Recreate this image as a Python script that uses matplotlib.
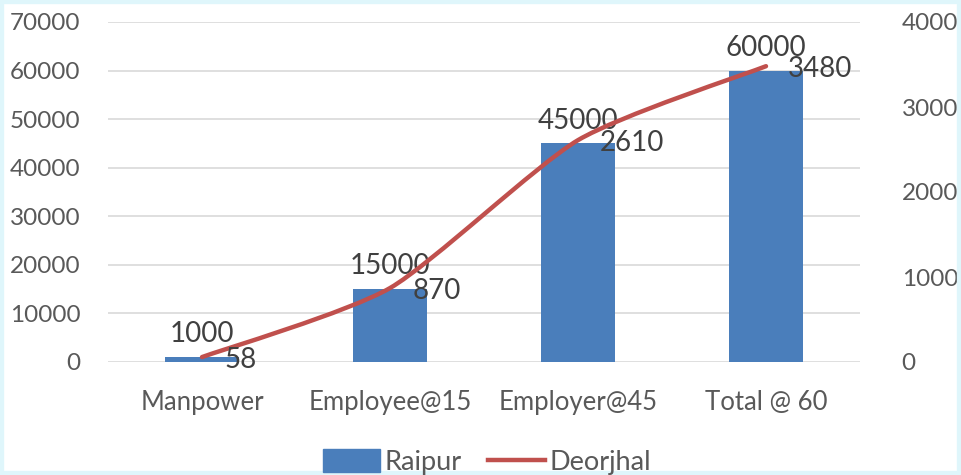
import matplotlib.pyplot as plt
from matplotlib.path import Path
from matplotlib.patches import PathPatch
from matplotlib.lines import Line2D
from matplotlib.patches import Patch

categories = ["Manpower", "Employee@15", "Employer@45", "Total @ 60"]
raipur = [1000, 15000, 45000, 60000]
deorjhal = [58, 870, 2610, 3480]
left_ticks = [0, 10000, 20000, 30000, 40000, 50000, 60000, 70000]
right_ticks = [0, 1000, 2000, 3000, 4000]

BAR = "#4a7ebb"
LINE = "#c0504d"
TXT = "#595959"

plt.rcParams["font.family"] = ["Lato", "DejaVu Sans"]

fig = plt.figure(figsize=(9.61, 4.75), dpi=100)
fig.patch.set_facecolor("white")
ax = fig.add_axes([108 / 961, 1 - 362 / 475, 752 / 961, 340 / 475])
ax2 = ax.twinx()

x = list(range(len(categories)))
ax.bar(x, raipur, width=0.39, color=BAR, zorder=2)
ax.set_xlim(-0.5, 3.5)
ax.set_ylim(0, 70000)
ax.set_yticks(left_ticks)
ax.set_yticklabels([str(v) for v in left_ticks])
ax.grid(axis="y", color="#d9d9d9", linewidth=1.2, zorder=0)
ax.set_axisbelow(True)
ax.set_xticks(x)
ax.set_xticklabels(categories)
ax.tick_params(axis="x", length=0, pad=20, labelsize=18.5, labelcolor=TXT)
ax.tick_params(axis="y", length=0, pad=20, labelsize=17.5, labelcolor=TXT)

for xi, v in zip(x, raipur):
    ax.annotate(str(v), (xi, v), xytext=(0, 7), textcoords="offset points",
                ha="center", va="bottom", fontsize=20, color="#404040")

# smoothed line (Excel-style bezier through the points)
verts = [(x[0], deorjhal[0])]
codes = [Path.MOVETO]
n = len(x)
k = 1 / 9
for i in range(n - 1):
    p0 = (x[max(i - 1, 0)], deorjhal[max(i - 1, 0)])
    p1 = (x[i], deorjhal[i])
    p2 = (x[i + 1], deorjhal[i + 1])
    p3 = (x[min(i + 2, n - 1)], deorjhal[min(i + 2, n - 1)])
    c1 = (p1[0] + (p2[0] - p0[0]) * k, p1[1] + (p2[1] - p0[1]) * k)
    c2 = (p2[0] - (p3[0] - p1[0]) * k, p2[1] - (p3[1] - p1[1]) * k)
    verts += [c1, c2, p2]
    codes += [Path.CURVE4] * 3
ax2.add_patch(PathPatch(Path(verts, codes), facecolor="none", edgecolor=LINE,
                        linewidth=3.2, capstyle="round", zorder=3))
ax2.set_ylim(0, 4000)
ax2.set_yticks(right_ticks)
ax2.set_yticklabels([str(v) for v in right_ticks])
ax2.tick_params(axis="y", length=0, pad=30, labelsize=17.5, labelcolor=TXT)
for lbl in ax2.get_yticklabels():
    lbl.set_ha("left")

for xi, v in zip(x, deorjhal):
    ax2.annotate(str(v), (xi, v), xytext=(16, -2), textcoords="offset points",
                 ha="left", va="center", fontsize=20, color="#404040")

for a in (ax, ax2):
    for s in a.spines.values():
        s.set_visible(False)

handles = [Patch(color=BAR), Line2D([], [], color=LINE, linewidth=3.2)]
fig.legend(handles, ["Raipur", "Deorjhal"], loc="center", ncol=2,
           bbox_to_anchor=(487 / 961, 1 - 462 / 475), frameon=False,
           fontsize=19.5, labelcolor=TXT, handlelength=2.1, handleheight=0.9,
           handletextpad=0.15, columnspacing=1.0)

# light border at the picture edge
fig.patches.append(plt.Rectangle((0, 0), 1, 1, transform=fig.transFigure,
                                 fill=False, edgecolor="#dff6fb", linewidth=6))

fig.savefig("out.png", dpi=100)
